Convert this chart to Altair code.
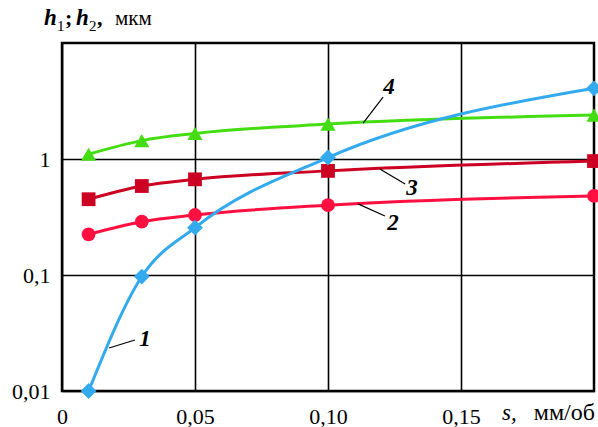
import altair as alt
import pandas as pd

# ---- data ----
feed = [0.01, 0.03, 0.05, 0.10, 0.20]
curve1 = [0.0100, 0.097, 0.256, 1.03, 4.07]   # blue diamonds
curve2 = [0.224, 0.288, 0.329, 0.40, 0.48]    # red circles
curve3 = [0.45, 0.585, 0.668, 0.79, 0.96]     # dark red squares
curve4 = [1.10, 1.44, 1.66, 2.00, 2.39]       # green triangles

series_names = ["4", "3", "2", "1"]
series_vals = [curve4, curve3, curve2, curve1]
series_colors = ["#44DD11", "#CC0022", "#FF1040", "#33AAEE"]
series_shapes = ["triangle-up", "square", "circle", "diamond"]
series_sizes = [230, 190, 190, 250]

x_ticks = [0, 0.05, 0.10, 0.15]
y_ticks = [0.01, 0.1, 1]

# curve labels with leader lines (data coordinates)
lab_text = ["1", "2", "3", "4"]
lab_x = [0.0312, 0.1244, 0.1316, 0.1229]
lab_y = [0.028, 0.28, 0.562, 4.18]
lead_x1 = [0.0177, 0.1113, 0.1195, 0.1132]
lead_x2 = [0.0274, 0.1214, 0.1290, 0.1207]
lead_y1 = [0.0235, 0.41, 0.82, 2.04]
lead_y2 = [0.0275, 0.323, 0.608, 3.42]

FONT = "Times New Roman, Liberation Serif, DejaVu Serif, serif"

xs = alt.Scale(domain=[0, 0.2], nice=False, zero=False)
ys = alt.Scale(type="log", domain=[0.01, 10], nice=False)

x_axis = alt.Axis(values=x_ticks, title=None, grid=True, gridColor="black", gridWidth=1.6,
                  gridOpacity=1, ticks=False, domain=False, labelFont=FONT, labelFontSize=22,
                  labelColor="black", labelPadding=15, labelFlush=False,
                  labelExpr="datum.value == 0 ? '0' : replace(format(datum.value, '.2f'), '.', ',')")
y_axis = alt.Axis(values=y_ticks, title=None, grid=True, gridColor="black", gridWidth=1.6,
                  gridOpacity=1, ticks=False, domain=False, labelFont=FONT, labelFontSize=22,
                  labelColor="black", labelPadding=12, labelFlush=False,
                  labelExpr="datum.value == 1 ? '1' : replace(format(datum.value, '~g'), '.', ',')")


def X(f="x"):
    return alt.X(f + ":Q", scale=xs, axis=x_axis)


def Y(f="y"):
    return alt.Y(f + ":Q", scale=ys, axis=y_axis)


layers = []
for name, vals, col, shp, sz in zip(series_names, series_vals, series_colors, series_shapes, series_sizes):
    df = pd.DataFrame({"x": feed, "y": vals})
    line = alt.Chart(df).mark_line(color=col, strokeWidth=3, interpolate="monotone").encode(x=X(), y=Y())
    pts = alt.Chart(df).mark_point(color=col, fill=col, filled=True, opacity=1, shape=shp,
                                   size=sz).encode(x=X(), y=Y())
    layers += [line, pts]

lead_df = pd.DataFrame({"x": lead_x1, "x2": lead_x2, "y": lead_y1, "y2": lead_y2})
leaders = alt.Chart(lead_df).mark_rule(color="black", strokeWidth=1.2).encode(
    x=X(), x2="x2:Q", y=Y(), y2="y2:Q")
lab_df = pd.DataFrame({"t": lab_text, "x": lab_x, "y": lab_y})
labels = alt.Chart(lab_df).mark_text(font=FONT, fontSize=23, fontStyle="italic", fontWeight="bold",
                                     color="black").encode(x=X(), y=Y(), text="t:N")
layers += [leaders, labels]

anno = pd.DataFrame({"a": [0]})


def txt(s, px, py, size=22, style="normal", weight="normal", align="left"):
    return alt.Chart(anno).mark_text(text=s, font=FONT, fontSize=size, fontStyle=style,
                                     fontWeight=weight, align=align, baseline="alphabetic",
                                     color="black").encode(x=alt.value(px), y=alt.value(py))


# y-axis title  h1; h2, мкм
layers += [
    txt("h", -18, -18, 23, "italic", "bold"),
    txt("1", -5, -12, 15),
    txt(";", 3, -18, 22, "normal", "bold"),
    txt("h", 14, -18, 23, "italic", "bold"),
    txt("2", 27, -12, 15),
    txt(",", 35, -18, 22, "normal", "bold"),
    txt("мкм", 53, -18, 21),
]
# x-axis title  s, мм/об
layers += [
    txt("s,", 440, 377, 23, "italic"),
    txt("мм/об", 533, 377, 24, align="right"),
]

chart = alt.layer(*layers).properties(
    width=532, height=348,
    autosize=alt.AutoSizeParams(type="none"),
    padding={"left": 62, "top": 43, "right": 4, "bottom": 36},
    background="white",
).configure_view(stroke="black", strokeWidth=2.5)

chart.save("out.html", embed_options={"renderer": "svg", "actions": False})
